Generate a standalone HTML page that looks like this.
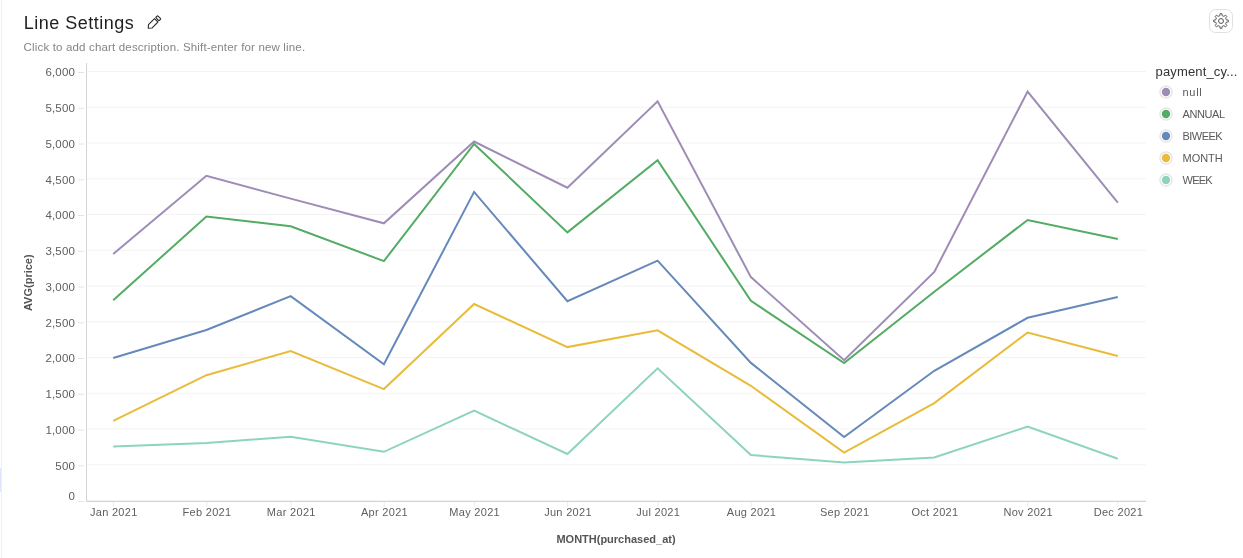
<!DOCTYPE html>
<html><head><meta charset="utf-8"><title>Line Settings</title>
<style>
html,body{margin:0;padding:0;background:#fff;}
body{width:1243px;height:558px;position:relative;overflow:hidden;font-family:"Liberation Sans",Arial,sans-serif;}
.lb{position:absolute;left:1px;top:0;width:1px;height:558px;background:#efefef;}
.bs{position:absolute;left:0;top:468px;width:1px;height:24px;background:#dfe5fb;}
svg.chart{position:absolute;left:0;top:0;will-change:transform;}
svg text{font-family:"Liberation Sans",Arial,sans-serif;}
.title{font-size:18px;fill:#1f1f1f;letter-spacing:0.5px;}
.desc{font-size:11.5px;fill:#858585;letter-spacing:0.165px;}
.yl{font-size:11.5px;fill:#5e5e5e;letter-spacing:0.15px;}
.xl{font-size:11px;fill:#5e5e5e;letter-spacing:0.3px;}
.at{font-size:11px;font-weight:700;fill:#555;}
.lt{font-size:13px;fill:#333;letter-spacing:0.15px;}
.ll{font-size:11px;fill:#5a5a5a;letter-spacing:-0.2px;}
</style></head>
<body>
<div class="lb"></div><div class="bs"></div>
<svg class="chart" width="1243" height="558" viewBox="0 0 1243 558">
<line x1="87" x2="1146" y1="500.5" y2="500.5" stroke="#f3f3f3" stroke-width="1"/>
<line x1="87" x2="1146" y1="464.75" y2="464.75" stroke="#f3f3f3" stroke-width="1"/>
<line x1="87" x2="1146" y1="429.0" y2="429.0" stroke="#f3f3f3" stroke-width="1"/>
<line x1="87" x2="1146" y1="393.25" y2="393.25" stroke="#f3f3f3" stroke-width="1"/>
<line x1="87" x2="1146" y1="357.5" y2="357.5" stroke="#f3f3f3" stroke-width="1"/>
<line x1="87" x2="1146" y1="321.75" y2="321.75" stroke="#f3f3f3" stroke-width="1"/>
<line x1="87" x2="1146" y1="286.0" y2="286.0" stroke="#f3f3f3" stroke-width="1"/>
<line x1="87" x2="1146" y1="250.25" y2="250.25" stroke="#f3f3f3" stroke-width="1"/>
<line x1="87" x2="1146" y1="214.5" y2="214.5" stroke="#f3f3f3" stroke-width="1"/>
<line x1="87" x2="1146" y1="178.75" y2="178.75" stroke="#f3f3f3" stroke-width="1"/>
<line x1="87" x2="1146" y1="143.0" y2="143.0" stroke="#f3f3f3" stroke-width="1"/>
<line x1="87" x2="1146" y1="107.25" y2="107.25" stroke="#f3f3f3" stroke-width="1"/>
<line x1="87" x2="1146" y1="71.5" y2="71.5" stroke="#f3f3f3" stroke-width="1"/>
<line x1="78" x2="84" y1="501.5" y2="501.5" stroke="#e4e4e4" stroke-width="1"/>
<text x="75" y="499.6" text-anchor="end" class="yl">0</text>
<line x1="78" x2="84" y1="465.75" y2="465.75" stroke="#e4e4e4" stroke-width="1"/>
<text x="75" y="469.6" text-anchor="end" class="yl">500</text>
<line x1="78" x2="84" y1="430.0" y2="430.0" stroke="#e4e4e4" stroke-width="1"/>
<text x="75" y="433.9" text-anchor="end" class="yl">1,000</text>
<line x1="78" x2="84" y1="394.25" y2="394.25" stroke="#e4e4e4" stroke-width="1"/>
<text x="75" y="398.1" text-anchor="end" class="yl">1,500</text>
<line x1="78" x2="84" y1="358.5" y2="358.5" stroke="#e4e4e4" stroke-width="1"/>
<text x="75" y="362.4" text-anchor="end" class="yl">2,000</text>
<line x1="78" x2="84" y1="322.75" y2="322.75" stroke="#e4e4e4" stroke-width="1"/>
<text x="75" y="326.6" text-anchor="end" class="yl">2,500</text>
<line x1="78" x2="84" y1="287.0" y2="287.0" stroke="#e4e4e4" stroke-width="1"/>
<text x="75" y="290.9" text-anchor="end" class="yl">3,000</text>
<line x1="78" x2="84" y1="251.25" y2="251.25" stroke="#e4e4e4" stroke-width="1"/>
<text x="75" y="255.2" text-anchor="end" class="yl">3,500</text>
<line x1="78" x2="84" y1="215.5" y2="215.5" stroke="#e4e4e4" stroke-width="1"/>
<text x="75" y="219.4" text-anchor="end" class="yl">4,000</text>
<line x1="78" x2="84" y1="179.75" y2="179.75" stroke="#e4e4e4" stroke-width="1"/>
<text x="75" y="183.7" text-anchor="end" class="yl">4,500</text>
<line x1="78" x2="84" y1="144.0" y2="144.0" stroke="#e4e4e4" stroke-width="1"/>
<text x="75" y="147.9" text-anchor="end" class="yl">5,000</text>
<line x1="78" x2="84" y1="108.25" y2="108.25" stroke="#e4e4e4" stroke-width="1"/>
<text x="75" y="112.2" text-anchor="end" class="yl">5,500</text>
<line x1="78" x2="84" y1="72.5" y2="72.5" stroke="#e4e4e4" stroke-width="1"/>
<text x="75" y="76.4" text-anchor="end" class="yl">6,000</text>
<line x1="86.5" x2="86.5" y1="63" y2="502" stroke="#d4d4d4" stroke-width="1"/>
<line x1="86" x2="1146" y1="501.5" y2="501.5" stroke="#d4d4d4" stroke-width="1"/>
<line x1="113.5" x2="113.5" y1="502" y2="507" stroke="#ebebeb" stroke-width="1"/>
<text x="113.8" y="515.9" text-anchor="middle" class="xl">Jan 2021</text>
<line x1="206.74" x2="206.74" y1="502" y2="507" stroke="#ebebeb" stroke-width="1"/>
<text x="207.0" y="515.9" text-anchor="middle" class="xl">Feb 2021</text>
<line x1="290.96" x2="290.96" y1="502" y2="507" stroke="#ebebeb" stroke-width="1"/>
<text x="291.3" y="515.9" text-anchor="middle" class="xl">Mar 2021</text>
<line x1="384.2" x2="384.2" y1="502" y2="507" stroke="#ebebeb" stroke-width="1"/>
<text x="384.5" y="515.9" text-anchor="middle" class="xl">Apr 2021</text>
<line x1="474.43" x2="474.43" y1="502" y2="507" stroke="#ebebeb" stroke-width="1"/>
<text x="474.7" y="515.9" text-anchor="middle" class="xl">May 2021</text>
<line x1="567.68" x2="567.68" y1="502" y2="507" stroke="#ebebeb" stroke-width="1"/>
<text x="568.0" y="515.9" text-anchor="middle" class="xl">Jun 2021</text>
<line x1="657.91" x2="657.91" y1="502" y2="507" stroke="#ebebeb" stroke-width="1"/>
<text x="658.2" y="515.9" text-anchor="middle" class="xl">Jul 2021</text>
<line x1="751.15" x2="751.15" y1="502" y2="507" stroke="#ebebeb" stroke-width="1"/>
<text x="751.5" y="515.9" text-anchor="middle" class="xl">Aug 2021</text>
<line x1="844.39" x2="844.39" y1="502" y2="507" stroke="#ebebeb" stroke-width="1"/>
<text x="844.7" y="515.9" text-anchor="middle" class="xl">Sep 2021</text>
<line x1="934.63" x2="934.63" y1="502" y2="507" stroke="#ebebeb" stroke-width="1"/>
<text x="934.9" y="515.9" text-anchor="middle" class="xl">Oct 2021</text>
<line x1="1027.87" x2="1027.87" y1="502" y2="507" stroke="#ebebeb" stroke-width="1"/>
<text x="1028.2" y="515.9" text-anchor="middle" class="xl">Nov 2021</text>
<line x1="1118.1" x2="1118.1" y1="502" y2="507" stroke="#ebebeb" stroke-width="1"/>
<text x="1118.4" y="515.9" text-anchor="middle" class="xl">Dec 2021</text>
<text x="616" y="543.2" text-anchor="middle" class="at">MONTH(purchased_at)</text>
<text transform="translate(32.2,282.7) rotate(-90)" text-anchor="middle" class="at">AVG(price)</text>
<polyline points="113.2,254.0 206.4,175.8 290.7,198.6 383.9,223.3 474.1,141.5 567.4,187.7 657.6,101.3 750.9,277.1 844.1,360.2 934.3,271.9 1027.6,91.6 1117.8,202.6" fill="none" stroke="#9e8cb6" stroke-width="2" stroke-linejoin="miter" stroke-linecap="butt"/>
<polyline points="113.2,300.2 206.4,216.6 290.7,226.2 383.9,261.1 474.1,143.9 567.4,232.4 657.6,160.3 750.9,300.8 844.1,363.0 934.3,291.7 1027.6,220.0 1117.8,239.0" fill="none" stroke="#53ab64" stroke-width="2" stroke-linejoin="miter" stroke-linecap="butt"/>
<polyline points="113.2,358.0 206.4,330.0 290.7,296.1 383.9,364.3 474.1,191.9 567.4,301.2 657.6,260.6 750.9,362.9 844.1,437.0 934.3,370.8 1027.6,317.8 1117.8,297.0" fill="none" stroke="#6689bb" stroke-width="2" stroke-linejoin="miter" stroke-linecap="butt"/>
<polyline points="113.2,420.9 206.4,375.2 290.7,351.0 383.9,389.1 474.1,304.0 567.4,347.1 657.6,330.3 750.9,385.8 844.1,452.6 934.3,403.1 1027.6,332.5 1117.8,356.0" fill="none" stroke="#e8bc3a" stroke-width="2" stroke-linejoin="miter" stroke-linecap="butt"/>
<polyline points="113.2,446.5 206.4,443.0 290.7,436.8 383.9,451.8 474.1,410.7 567.4,454.0 657.6,368.3 750.9,455.0 844.1,462.4 934.3,457.4 1027.6,426.6 1117.8,458.7" fill="none" stroke="#8ed4bd" stroke-width="2" stroke-linejoin="miter" stroke-linecap="butt"/>
<text x="1155.5" y="76" class="lt">payment_cy...</text>
<circle cx="1166" cy="92" r="6.1" fill="none" stroke="#e6e6e6" stroke-width="1.5"/>
<circle cx="1166" cy="92" r="4.2" fill="#9e8cb6"/>
<text x="1182.5" y="95.6" class="ll" style="letter-spacing:0.7px">null</text>
<circle cx="1166" cy="114" r="6.1" fill="none" stroke="#e6e6e6" stroke-width="1.5"/>
<circle cx="1166" cy="114" r="4.2" fill="#53ab64"/>
<text x="1182.5" y="117.6" class="ll" style="letter-spacing:-0.42px">ANNUAL</text>
<circle cx="1166" cy="136" r="6.1" fill="none" stroke="#e6e6e6" stroke-width="1.5"/>
<circle cx="1166" cy="136" r="4.2" fill="#6689bb"/>
<text x="1182.5" y="139.6" class="ll" style="letter-spacing:-0.55px">BIWEEK</text>
<circle cx="1166" cy="158" r="6.1" fill="none" stroke="#e6e6e6" stroke-width="1.5"/>
<circle cx="1166" cy="158" r="4.2" fill="#e8bc3a"/>
<text x="1182.5" y="161.6" class="ll" style="letter-spacing:-0.02px">MONTH</text>
<circle cx="1166" cy="180" r="6.1" fill="none" stroke="#e6e6e6" stroke-width="1.5"/>
<circle cx="1166" cy="180" r="4.2" fill="#8ed4bd"/>
<text x="1182.5" y="183.6" class="ll" style="letter-spacing:-0.75px">WEEK</text>
<text x="23.8" y="28.8" class="title">Line Settings</text>
<text x="23.6" y="51.2" class="desc">Click to add chart description. Shift-enter for new line.</text>
<g transform="translate(148.3,28.2) rotate(-45)" fill="none" stroke="#2a2a2a" stroke-width="1.1" stroke-linejoin="round"><path d="M0,0 L2.7,-2.45 L11.2,-2.45 L11.2,2.45 L2.7,2.45 Z"/><rect x="12.75" y="-2.4" width="2.7" height="4.8" rx="0.7"/></g>
<rect x="1209.5" y="9.5" width="23" height="23" rx="6" fill="#fff" stroke="#e0e1df" stroke-width="1"/>
<path d="M1218.93,16.01 L1219.79,15.74 L1220.10,13.66 L1221.90,13.66 L1222.21,15.74 L1223.07,16.01 L1223.86,16.42 L1225.56,15.17 L1226.83,16.44 L1225.58,18.14 L1225.99,18.93 L1226.26,19.79 L1228.34,20.10 L1228.34,21.90 L1226.26,22.21 L1225.99,23.07 L1225.58,23.86 L1226.83,25.56 L1225.56,26.83 L1223.86,25.58 L1223.07,25.99 L1222.21,26.26 L1221.90,28.34 L1220.10,28.34 L1219.79,26.26 L1218.93,25.99 L1218.14,25.58 L1216.44,26.83 L1215.17,25.56 L1216.42,23.86 L1216.01,23.07 L1215.74,22.21 L1213.66,21.90 L1213.66,20.10 L1215.74,19.79 L1216.01,18.93 L1216.42,18.14 L1215.17,16.44 L1216.44,15.17 L1218.14,16.42 Z" fill="none" stroke="#505050" stroke-width="0.95" stroke-linejoin="round"/>
<circle cx="1221.0" cy="21.0" r="2.45" fill="none" stroke="#505050" stroke-width="1"/>
</svg>
</body></html>
